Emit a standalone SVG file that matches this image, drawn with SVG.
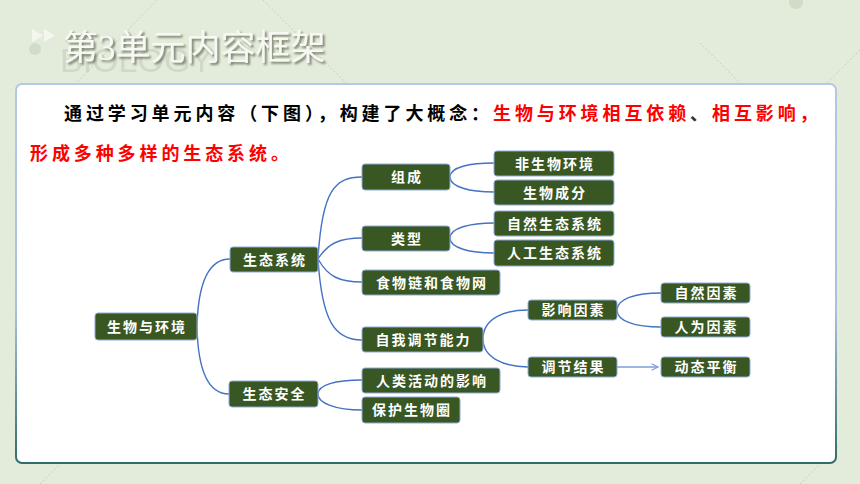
<svg xmlns="http://www.w3.org/2000/svg" width="860" height="484" viewBox="0 0 860 484">
  <defs>
    <linearGradient id="panelStroke" x1="0" y1="0" x2="0" y2="1">
      <stop offset="0" stop-color="#b4c7e7"/>
      <stop offset="0.6" stop-color="#a9c0de"/>
      <stop offset="1" stop-color="#2f6e68"/>
    </linearGradient>
    <filter id="shadow" x="-10%" y="-20%" width="130%" height="160%">
      <feDropShadow dx="2" dy="2" stdDeviation="1.2" flood-color="#5a6650" flood-opacity="0.8"/>
    </filter>
    <marker id="chev" viewBox="0 0 10 10" refX="9" refY="5" markerWidth="8" markerHeight="8" markerUnits="userSpaceOnUse" orient="auto">
      <path d="M1,1 L9,5 L1,9" fill="none" stroke="#7f9fd6" stroke-width="1.4"/>
    </marker>
    <style>
      .node rect { fill: #385723; stroke: #8faadc; stroke-width: 1; }
      .node text { fill: #ffffff; font-family: "Noto Sans CJK SC", sans-serif; font-size: 14px; font-weight: 700; letter-spacing: 2px; text-anchor: middle; }
      .conn path { fill: none; stroke: #4472c4; stroke-width: 1.4; }
      .deco { stroke: #c6d0bd; stroke-width: 1; stroke-dasharray: 2 2; fill: none; }
      .para { font-family: "Noto Sans CJK SC", sans-serif; font-size: 18px; font-weight: 700; letter-spacing: 3.9px; }
    </style>
  </defs>

  <!-- background -->
  <rect x="0" y="0" width="860" height="484" fill="#e3ebda"/>
  <g id="decor">
    <line class="deco" x1="157" y1="0" x2="60" y2="100"/>
    <line class="deco" x1="263" y1="0" x2="360" y2="97"/>
    <line class="deco" x1="700" y1="43" x2="745" y2="88"/>
    <line class="deco" x1="860" y1="50" x2="822" y2="88"/>
    <line class="deco" x1="40" y1="484" x2="62" y2="462"/>
    <line class="deco" x1="800" y1="484" x2="840" y2="444"/>
    <circle cx="796" cy="2" r="7" fill="#d2dbc7"/>
    <circle cx="35" cy="49" r="6" fill="#d2dbc7"/>
    <text x="60" y="72" font-family="Liberation Sans, Arial, sans-serif" font-size="34" fill="#cfd6c6" opacity="0.9">BIOLOGY</text>
    <polygon points="32,29 43,35.5 32,42" fill="#f4f7f0"/>
    <polygon points="44,29 55,35.5 44,42" fill="#f4f7f0"/>
  </g>

  <g id="title">
    <text x="63" y="60" font-family="Liberation Serif, 'Noto Sans CJK SC', serif" font-size="35" fill="#f7f8f3" filter="url(#shadow)">第3单元内容框架</text>
  </g>

  <!-- panel -->
  <rect x="16" y="84" width="820" height="379" rx="6" fill="#ffffff" stroke="url(#panelStroke)" stroke-width="2"/>

  <g id="paragraph">
    <text class="para" x="64" y="120"><tspan fill="#000000">通过学习单元内容（下图），构建了大概念：</tspan><tspan fill="#ff0000">生物与环境相互依赖</tspan><tspan fill="#333333">、</tspan><tspan fill="#ff0000">相互影响，</tspan></text>
    <text class="para" x="30" y="160" fill="#ff0000">形成多种多样的生态系统。</text>
  </g>

  <!-- connectors -->
  <g id="connectors" class="conn">
    <path d="M197,327 C198,285 208,259 230,259"/>
    <path d="M197,327 C198,370 208,394 229,394"/>
    <path d="M318,259 C322,190 335,177 362,177"/>
    <path d="M318,259 C328,243 340,238 362,238"/>
    <path d="M318,259 C328,277 340,282 362,282"/>
    <path d="M318,259 C322,322 335,340 362,340"/>
    <path d="M450,177 C450,167 470,163 494,163"/>
    <path d="M450,177 C450,187 470,192 494,192"/>
    <path d="M450,238 C450,228 470,223 494,223"/>
    <path d="M450,238 C450,248 470,253 494,253"/>
    <path d="M483,339 C483,318 505,310 528,310"/>
    <path d="M483,339 C483,358 505,367 528,367"/>
    <path d="M617,310 C617,299 635,293 661,293"/>
    <path d="M617,310 C617,321 635,327 661,327"/>
    <path d="M318,394 C318,385 335,380 362,380"/>
    <path d="M318,394 C318,403 335,410 362,410"/>
    <path d="M617,367 L658,367" style="stroke:#7f9fd6" marker-end="url(#chev)"/>
  </g>

  <!-- nodes -->
  <g id="n-shengwu" class="node"><rect x="95" y="313" width="102" height="27" rx="3"/><text x="147" y="331.5">生物与环境</text></g>
  <g id="n-xitong" class="node"><rect x="230" y="247" width="88" height="25" rx="3"/><text x="275" y="264.5">生态系统</text></g>
  <g id="n-anquan" class="node"><rect x="229" y="381" width="89" height="26" rx="3"/><text x="274.5" y="399">生态安全</text></g>
  <g id="n-zucheng" class="node"><rect x="362" y="164" width="88" height="26" rx="3"/><text x="407" y="182">组成</text></g>
  <g id="n-leixing" class="node"><rect x="362" y="226" width="88" height="25" rx="3"/><text x="407" y="243.5">类型</text></g>
  <g id="n-shiwulian" class="node"><rect x="362" y="270" width="138" height="25" rx="3"/><text x="432" y="287.5">食物链和食物网</text></g>
  <g id="n-tiaojie" class="node"><rect x="362" y="327" width="121" height="25" rx="3"/><text x="423.5" y="344.5">自我调节能力</text></g>
  <g id="n-renlei" class="node"><rect x="362" y="368" width="138" height="25" rx="3"/><text x="432" y="385.5">人类活动的影响</text></g>
  <g id="n-baohu" class="node"><rect x="362" y="397" width="98" height="26" rx="3"/><text x="412" y="415">保护生物圈</text></g>
  <g id="n-feishengwu" class="node"><rect x="494" y="151" width="120" height="25" rx="3"/><text x="555" y="168.5">非生物环境</text></g>
  <g id="n-chengfen" class="node"><rect x="494" y="180" width="120" height="25" rx="3"/><text x="555" y="197.5">生物成分</text></g>
  <g id="n-ziran-xt" class="node"><rect x="494" y="211" width="120" height="25" rx="3"/><text x="555" y="228.5">自然生态系统</text></g>
  <g id="n-rengong-xt" class="node"><rect x="494" y="240" width="120" height="26" rx="3"/><text x="555" y="258">人工生态系统</text></g>
  <g id="n-yingxiang" class="node"><rect x="528" y="300" width="89" height="20" rx="3"/><text x="573.5" y="315">影响因素</text></g>
  <g id="n-jieguo" class="node"><rect x="528" y="357" width="89" height="20" rx="3"/><text x="573.5" y="372">调节结果</text></g>
  <g id="n-ziran-ys" class="node"><rect x="661" y="283" width="89" height="20" rx="3"/><text x="706.5" y="298">自然因素</text></g>
  <g id="n-renwei-ys" class="node"><rect x="661" y="317" width="89" height="20" rx="3"/><text x="706.5" y="332">人为因素</text></g>
  <g id="n-pingheng" class="node"><rect x="661" y="357" width="89" height="20" rx="3"/><text x="706.5" y="372">动态平衡</text></g>
</svg>
